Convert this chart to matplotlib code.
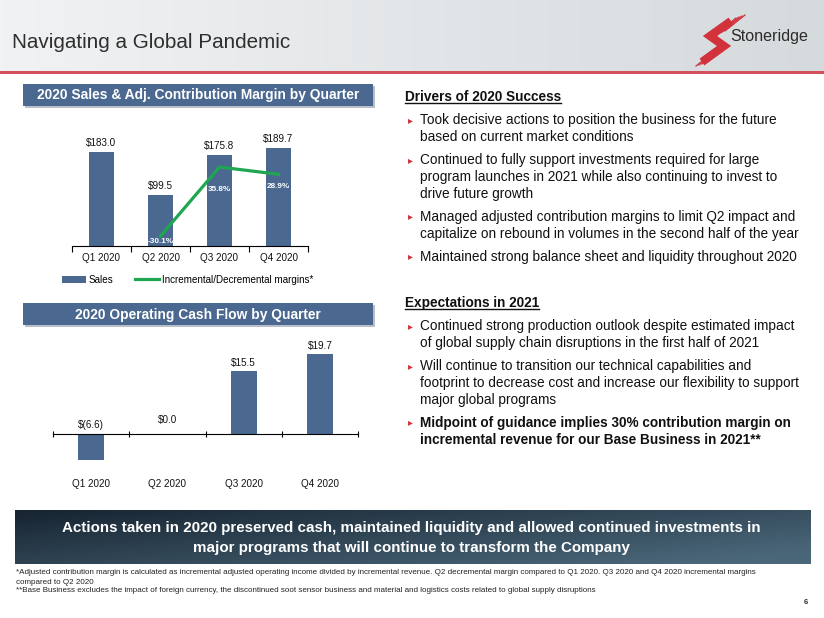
import matplotlib
matplotlib.use('Agg')
import matplotlib.pyplot as plt
import numpy as np
from matplotlib.patches import Rectangle, Patch
from matplotlib.lines import Line2D
from matplotlib.colors import to_rgb

# ---------------- data ----------------
quarters = ['Q1 2020', 'Q2 2020', 'Q3 2020', 'Q4 2020']
sales = [183.0, 99.5, 175.8, 189.7]
margin_quarters = ['Q2 2020', 'Q3 2020', 'Q4 2020']
margins = [-30.1, 35.8, 28.9]
cash_flow = [-6.6, 0.0, 15.5, 19.7]

title = 'Navigating a Global Pandemic'
chart1_title = '2020 Sales & Adj. Contribution Margin by Quarter'
chart2_title = '2020 Operating Cash Flow by Quarter'
legend_labels = ['Sales', 'Incremental/Decremental margins*']

drivers_heading = 'Drivers of 2020 Success'
drivers = [
    ["Took decisive actions to position the business for the future",
     "based on current market conditions"],
    ["Continued to fully support investments required for large",
     "program launches in 2021 while also continuing to invest to",
     "drive future growth"],
    ["Managed adjusted contribution margins to limit Q2 impact and",
     "capitalize on rebound in volumes in the second half of the year"],
    ["Maintained strong balance sheet and liquidity throughout 2020"],
]
expect_heading = 'Expectations in 2021'
expectations = [
    ["Continued strong production outlook despite estimated impact",
     "of global supply chain disruptions in the first half of 2021"],
    ["Will continue to transition our technical capabilities and",
     "footprint to decrease cost and increase our flexibility to support",
     "major global programs"],
    ["Midpoint of guidance implies 30% contribution margin on",
     "incremental revenue for our Base Business in 2021**"],
]
banner_lines = [
    "Actions taken in 2020 preserved cash, maintained liquidity and allowed continued investments in",
    "major programs that will continue to transform the Company",
]
footnotes = [
    "*Adjusted contribution margin is calculated as incremental adjusted operating income divided by incremental revenue. "
    "Q2 decremental margin compared to Q1 2020. Q3 2020 and Q4 2020 incremental margins",
    "compared to Q2 2020",
    "**Base Business excludes the impact of foreign currency, the discontinued soot sensor business and material and "
    "logistics costs related to global supply disruptions",
]
page_number = '6'

# ---------------- style ----------------
BLUE = '#4a6890'
GREEN = '#1ea650'
RED = '#d2323c'
TXT = '#111111'
W, H = 824, 618
plt.rcParams['font.family'] = ['Liberation Sans', 'DejaVu Sans']

fig = plt.figure(figsize=(W / 100, H / 100), dpi=100)
fig.patch.set_facecolor('white')

bg = fig.add_axes([0, 0, 1, 1], zorder=-5)
bg.set_xlim(0, W)
bg.set_ylim(H, 0)
bg.axis('off')

# header gradient
c0, c1 = np.array(to_rgb('#f1f2f3')), np.array(to_rgb('#d5dadd'))
t = np.linspace(0, 1, 200)[None, :, None]
grad = c0 + (c1 - c0) * t
bg.imshow(grad, extent=(0, W, 71, 0), aspect='auto', zorder=0)
bg.add_patch(Rectangle((0, 71), W, 3, color='#d4505c', lw=0, zorder=1))
bg.text(12, 43, title, fontsize=14.9, color='#2e2e2e', va='center', ha='left')

# logo
bg.plot([731, 710, 724, 702], [21, 36, 46, 62], color=RED, lw=6, solid_joinstyle='miter',
        solid_capstyle='butt', zorder=2)
for k in range(4):
    bg.plot([716 + 3 * k, 736 + 3 * k], [34 - 1 * k, 18 - 1 * k], color=RED, lw=0.9, zorder=2)
    bg.plot([696 + 3 * k, 716 + 3 * k], [66 - 1 * k, 50 - 1 * k], color=RED, lw=0.9, zorder=2)
bg.text(730, 37, 'Stoneridge', fontsize=11.6, color='#2b2b2b', va='center', ha='left')


def section_box(y, label):
    bg.add_patch(Rectangle((25, y + 2), 350, 22, color='#b9bfc6', lw=0, zorder=1))
    bg.add_patch(Rectangle((23, y), 350, 22, color=BLUE, lw=0, zorder=2))
    bg.text(198, y + 11.5, label, fontsize=9.9, color='white', fontweight='bold',
            ha='center', va='center', zorder=3)


section_box(84, chart1_title)
section_box(303, chart2_title)

# ---------------- chart 1 ----------------
x = np.arange(1, len(quarters) + 1)
ax1 = fig.add_axes([72 / W, 1 - 246 / H, 236 / W, 129 / H])
ax1.patch.set_alpha(0)
ax1.bar(x, sales, width=0.44, color=BLUE, zorder=2)
ax1.set_xlim(0.5, 4.5)
ax1.set_ylim(0, 250.5)
for xi, v in zip(x, sales):
    ax1.annotate(f'${v:.1f}', (xi, v), xytext=(0, 3), textcoords='offset points',
                 ha='center', va='bottom', fontsize=7.1, color=TXT)
for s in ['left', 'right', 'top']:
    ax1.spines[s].set_visible(False)
ax1.spines['bottom'].set_linewidth(0.8)
ax1.set_yticks([])
ax1.set_xticks(np.arange(0.5, 4.6, 1.0))
ax1.set_xticklabels([])
ax1.set_xticks(x, minor=True)
ax1.set_xticklabels(quarters, minor=True)
ax1.tick_params(axis='x', which='major', length=4, width=0.8, direction='out')
ax1.tick_params(axis='x', which='minor', length=0, pad=5, labelsize=7.1, labelcolor=TXT)

ax2 = ax1.twinx()
mx = [quarters.index(q) + 1 for q in margin_quarters]
ax2.plot(mx, margins, color=GREEN, lw=2.3, zorder=3)
ax2.set_ylim(-39.6, 83.6)
ax2.set_yticks([])
for s in ax2.spines.values():
    s.set_visible(False)
pct_offsets = [-3.8, -16.5, -8.6]
for xi, v, off in zip(mx, margins, pct_offsets):
    ax2.annotate(f'{v:.1f}%', (xi, v), xytext=(0, off), textcoords='offset points',
                 ha='center', va='center', fontsize=5.9, color='white', fontweight='bold')

handles = [Patch(facecolor=BLUE, edgecolor='none'), Line2D([], [], color=GREEN, lw=2.3)]
fig.legend(handles, legend_labels, loc='center left', bbox_to_anchor=(62 / W, 1 - 280 / H),
           ncol=2, frameon=False, fontsize=7.1, handlelength=2.4, handleheight=0.8,
           handletextpad=0.3, columnspacing=2.2, borderpad=0, borderaxespad=0)

# ---------------- chart 2 ----------------
ax3 = fig.add_axes([53 / W, 1 - 490 / H, 305 / W, 157 / H])
ax3.patch.set_alpha(0)
ax3.bar(x, cash_flow, width=0.34, color=BLUE, zorder=2)
ax3.set_xlim(0.5, 4.5)
ax3.set_ylim(-14, 25)
for xi, v in zip(x, cash_flow):
    lab = f'$({abs(v):.1f})' if v < 0 else f'${v:.1f}'
    off = 6.5 if v == 0 else 2.5
    ax3.annotate(lab, (xi, max(v, 0)), xytext=(0, off), textcoords='offset points',
                 ha='center', va='bottom', fontsize=7.1, color=TXT)
for s in ['left', 'right', 'top']:
    ax3.spines[s].set_visible(False)
ax3.spines['bottom'].set_position(('data', 0))
ax3.spines['bottom'].set_linewidth(0.8)
ax3.set_yticks([])
ax3.set_xticks(np.arange(0.5, 4.6, 1.0))
ax3.set_xticklabels([])
ax3.set_xticks(x, minor=True)
ax3.set_xticklabels(quarters, minor=True)
ax3.tick_params(axis='x', which='major', length=5, width=0.8, direction='inout')
ax3.tick_params(axis='x', which='minor', length=0, pad=33, labelsize=7.1, labelcolor=TXT)

# ---------------- right text ----------------
renderer = fig.canvas.get_renderer()
LINE = 16.6
GAP = 23.4
BODY = 9.8


def text_block(heading, items, y_head, bold_last=False):
    th = bg.text(405, y_head + 5, heading, fontsize=BODY, fontweight='bold', color=TXT,
                 ha='left', va='baseline')
    bb = th.get_window_extent(renderer)
    bg.plot([bb.x0, bb.x1], [y_head + 6.8, y_head + 6.8], color=TXT, lw=1.0)
    y = y_head
    for i, lines in enumerate(items):
        y += GAP
        bold = bold_last and i == len(items) - 1
        bg.text(410, y + 0.5, '\u25b8', fontsize=7, color=RED, ha='center', va='center',
                family=['DejaVu Sans'])
        for j, ln in enumerate(lines):
            if j > 0:
                y += LINE
            bg.text(420, y + 5, ln, fontsize=BODY, color=TXT, ha='left', va='baseline',
                    fontweight='bold' if bold else 'normal')


text_block(drivers_heading, drivers, 96)
text_block(expect_heading, expectations, 302, bold_last=True)

# ---------------- banner ----------------
d0, d1 = np.array(to_rgb('#172431')), np.array(to_rgb('#4a6779'))
gx = np.linspace(0, 1, 300)[None, :, None]
gy = np.linspace(0, 1, 40)[:, None, None]
bgrad = d0 + (d1 - d0) * np.clip(0.65 * gx + 0.45 * gy, 0, 1)
bg.imshow(bgrad, extent=(15, 811, 564, 510), aspect='auto', zorder=1)
bg.text(411, 528, banner_lines[0], fontsize=10.9, fontweight='bold', color='white',
        ha='center', va='center', zorder=3)
bg.text(411, 548, banner_lines[1], fontsize=10.9, fontweight='bold', color='white',
        ha='center', va='center', zorder=3)

# ---------------- footnotes ----------------
for yy, fn in zip([573, 582, 591], footnotes):
    bg.text(16, yy, fn, fontsize=5.75, color='#222222', ha='left', va='center')
bg.text(806, 602, page_number, fontsize=5.5, fontweight='bold', color='#333333',
        ha='center', va='center')

bg.set_xlim(0, W)
bg.set_ylim(H, 0)
fig.savefig('out.png', dpi=100)
